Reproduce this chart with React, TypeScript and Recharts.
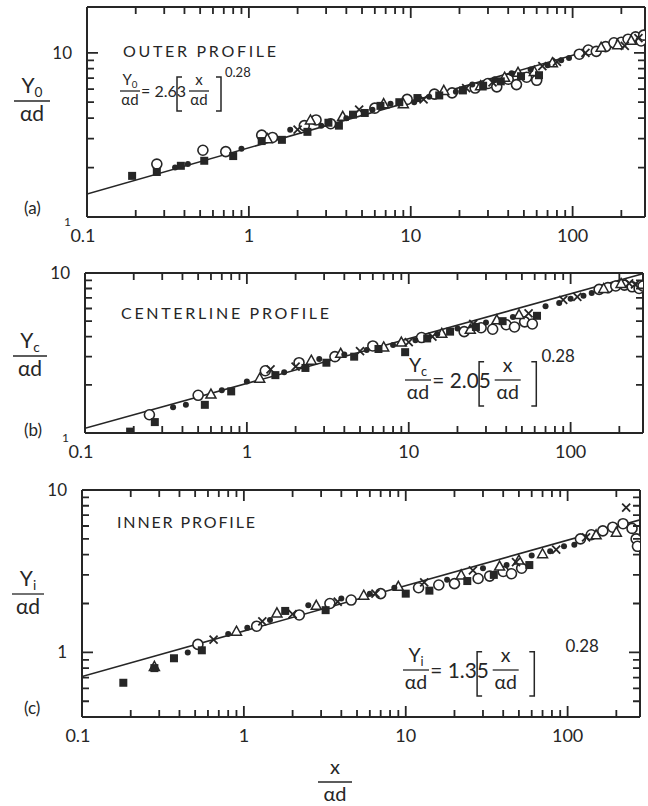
import { ScatterChart, Scatter, XAxis, YAxis } from "recharts";

const INK = "#262626";
const FONT = "Lato, 'Noto Sans', sans-serif";

// shared x axis (log)
const X_DOMAIN = [0.1, 280];
const X_TICKS = [
  0.1, 0.2, 0.3, 0.4, 0.5, 0.6, 0.7, 0.8, 0.9,
  1, 2, 3, 4, 5, 6, 7, 8, 9,
  10, 20, 30, 40, 50, 60, 70, 80, 90,
  100, 200,
];
const X_MAJOR = [0.1, 1, 10, 100];
const X_LABELS = ["0.1", "1", "10", "100"];

// (a) outer profile
const yTicksA = [1, 2, 3, 4, 5, 6, 7, 8, 9, 10];
const fitA = [[0.1, 1.38], [280, 12.9]];
const squaresA = [[0.19, 1.78], [0.27, 1.88], [0.38, 2.05], [0.53, 2.2], [0.8, 2.35], [1.2, 2.9], [1.6, 2.95], [2.3, 3.3], [3.1, 3.75], [3.6, 3.6], [4.4, 4.2], [5.2, 4.3], [6.5, 4.75], [8.5, 5.0], [11, 5.3], [15, 5.5], [21, 5.9], [28, 6.3], [36, 6.7], [48, 7.2], [62, 7.3]];
const ringsA = [[0.27, 2.1], [0.52, 2.55], [0.72, 2.5], [1.2, 3.15], [1.4, 3.05], [2.2, 3.6], [2.6, 3.9], [3.2, 3.7], [6, 4.6], [9.5, 5.2], [14, 5.6], [18, 5.7], [25, 6.1], [30, 6.5], [34, 6.2], [40, 6.9], [45, 6.4], [52, 7.1], [60, 6.8], [110, 9.8], [125, 10.4], [140, 10.2], [160, 10.9], [180, 11.5], [200, 11.6], [220, 12.1], [245, 12.5], [265, 11.8], [275, 12.8]];
const dotsA = [[0.19, 1.78], [0.35, 2.0], [0.42, 2.1], [0.9, 2.6], [1.8, 3.4], [2.8, 3.6], [4, 4.0], [5.8, 4.5], [7.5, 4.9], [10.5, 5.0], [13, 5.4], [19, 5.8], [24, 6.4], [33, 6.9], [42, 7.5], [55, 7.9], [70, 8.4], [85, 9.0], [95, 9.3]];
const trisA = [[1.3, 3.0], [2.4, 3.9], [3.8, 4.1], [6.8, 4.9], [9, 4.9], [16, 5.9], [27, 6.3], [38, 7.1], [46, 7.6], [58, 7.7], [75, 8.7], [150, 10.8], [190, 11.2], [230, 11.9]];
const crossesA = [[2.0, 3.4], [4.8, 4.5], [12, 5.2], [22, 6.1], [32, 6.6], [65, 8.3], [80, 8.8], [120, 10.0], [210, 11.0], [255, 12.3]];

// (b) centerline profile
const yTicksB = [1, 2, 3, 4, 5, 6, 7, 8, 9, 10];
const fitB = [[0.1, 1.07], [280, 9.9]];
const squaresB = [[0.19, 1.02], [0.27, 1.17], [0.55, 1.5], [0.8, 1.82], [1.5, 2.3], [2.3, 2.55], [3.1, 2.75], [4.6, 3.0], [6.5, 3.35], [9.5, 3.2], [13, 3.9], [18, 4.3], [26, 4.6], [38, 5.0], [62, 5.4]];
const ringsB = [[0.25, 1.3], [0.5, 1.72], [1.3, 2.45], [2.1, 2.75], [3.5, 3.0], [6, 3.5], [12, 3.95], [22, 4.3], [28, 4.55], [33, 4.45], [40, 4.75], [45, 4.6], [52, 4.95], [58, 4.8], [150, 7.9], [170, 8.1], [190, 8.3], [215, 8.4], [240, 8.2], [265, 8.0], [280, 8.3]];
const dotsB = [[0.35, 1.45], [0.42, 1.5], [0.7, 1.85], [1.0, 2.1], [1.7, 2.4], [2.8, 2.9], [4, 3.1], [5.5, 3.3], [8, 3.55], [11, 3.8], [15, 4.15], [20, 4.5], [30, 4.9], [44, 5.3], [70, 6.2], [85, 6.5], [100, 6.9], [120, 7.2], [135, 7.5]];
const trisB = [[0.6, 1.75], [1.2, 2.2], [2.5, 2.85], [3.8, 3.15], [7, 3.45], [9, 3.7], [16, 4.2], [24, 4.45], [35, 5.1], [48, 5.5], [160, 8.0], [205, 8.6]];
const crossesB = [[1.4, 2.5], [2.0, 2.6], [5, 3.25], [10, 3.7], [14, 4.0], [25, 4.8], [55, 5.6], [90, 6.8], [110, 7.1], [230, 8.6], [250, 8.5]];

// (c) inner profile
const yTicksC = [0.4, 0.5, 0.6, 0.7, 0.8, 0.9, 1, 2, 3, 4, 5, 6, 7, 8, 9, 10];
const fitC = [[0.1, 0.71], [280, 6.55]];
const squaresC = [[0.18, 0.65], [0.28, 0.8], [0.37, 0.92], [0.55, 1.03], [1.8, 1.8], [3.2, 1.82], [10, 2.3], [14, 2.4], [24, 2.75], [35, 3.0], [58, 3.45]];
const ringsC = [[0.52, 1.12], [1.2, 1.45], [2.2, 1.7], [3.4, 2.0], [4.6, 2.1], [7, 2.3], [12, 2.5], [16, 2.6], [20, 2.65], [28, 2.85], [33, 2.95], [40, 3.15], [45, 3.05], [52, 3.3], [120, 5.0], [140, 5.3], [165, 5.6], [190, 5.9], [220, 6.2], [250, 5.8], [265, 5.0], [270, 4.5]];
const dotsC = [[0.45, 1.0], [0.8, 1.3], [1.05, 1.42], [1.45, 1.58], [2.5, 1.95], [4, 2.15], [6, 2.3], [8.5, 2.5], [18, 2.8], [30, 3.3], [42, 3.45], [60, 3.95], [78, 4.2], [95, 4.5], [110, 4.6]];
const trisC = [[0.28, 0.82], [0.9, 1.35], [1.6, 1.75], [2.8, 1.95], [5.5, 2.25], [9, 2.55], [22, 3.0], [38, 3.4], [50, 3.7], [70, 4.05], [150, 5.3], [200, 5.5]];
const crossesC = [[0.65, 1.2], [1.3, 1.55], [2.0, 1.72], [3.8, 2.05], [6.5, 2.3], [13, 2.7], [26, 3.2], [48, 3.6], [85, 4.3], [130, 5.1], [230, 7.8]];

const toPts = (a: number[][]) => a.map(([x, y]) => ({ x, y }));

// plot-box geometry of each panel (page pixels)
const PLOT_W = 558;
const boxA = { top: 7, left: 87, h: 210, yDomain: [1, 19] };
const boxB = { top: 273, left: 85, h: 160, yDomain: [1, 10] };
const boxC = { top: 490, left: 82, h: 227, yDomain: [0.4, 10] };

// marker shapes
const Square = (p: any) => <rect x={p.cx - 4} y={p.cy - 4} width={8} height={8} fill={INK} />;
const Ring = (p: any) => <circle cx={p.cx} cy={p.cy} r={5} fill="#fff" stroke={INK} strokeWidth={1.6} />;
const Dot = (p: any) => <circle cx={p.cx} cy={p.cy} r={3} fill={INK} />;
const Tri = (p: any) => (
  <path d={`M${p.cx},${p.cy - 5}L${p.cx + 5},${p.cy + 4}L${p.cx - 5},${p.cy + 4}Z`} fill="#fff" stroke={INK} strokeWidth={1.5} />
);
const Cross = (p: any) => (
  <path d={`M${p.cx - 4},${p.cy - 4}L${p.cx + 4},${p.cy + 4}M${p.cx + 4},${p.cy - 4}L${p.cx - 4},${p.cy + 4}`} stroke={INK} strokeWidth={1.8} />
);
const Nothing = () => <g />;

// bottom labels only at decades
const XLabel = (props: any) => {
  const i = X_MAJOR.indexOf(props.payload.value);
  if (i < 0) return <g />;
  return (
    <text x={Number(props.x) - (i === 0 ? 4 : 0)} y={Number(props.y) + 25} textAnchor="middle" fontSize={18} fill={INK} fontFamily={FONT}>
      {X_LABELS[i]}
    </text>
  );
};

// left labels only at 1 and 10
const YLabel = (props: any) => {
  const v = props.payload.value;
  if (v !== 1 && v !== 10) return <g />;
  const small = v === 1 && props.smallOne;
  return (
    <text
      x={Number(props.x) - (small ? 16 : 15)}
      y={Number(props.y) + (small ? 9 : 6)}
      textAnchor="end"
      fontSize={small ? 12 : 17}
      fill={INK}
      fontFamily={FONT}
    >
      {String(v)}
    </text>
  );
};

type Box = { top: number; left: number; h: number; yDomain: number[] };

type PanelProps = {
  box: Box;
  yTicks: number[];
  smallOne: boolean;
  fit: number[][];
  squares: number[][];
  rings: number[][];
  dots: number[][];
  tris: number[][];
  crosses: number[][];
};

const axisLine = { stroke: INK, strokeWidth: 2 };
const PAD = 17; // space above the plot box inside each chart

const Panel = (p: PanelProps) => (
  <div style={{ position: "absolute", top: p.box.top - PAD, left: p.box.left - 86 }}>
    <ScatterChart width={PLOT_W + 88} height={p.box.h + PAD + 30} margin={{ top: PAD - 1, right: 1, bottom: 0, left: 0 }}>
      <XAxis
        xAxisId="b" dataKey="x" type="number" scale="log" domain={X_DOMAIN} ticks={X_TICKS}
        allowDataOverflow interval={0} height={30} tickLine={false} tickSize={0} tickMargin={0}
        axisLine={axisLine} tick={<XLabel />}
      />
      <XAxis
        xAxisId="t" orientation="top" dataKey="x" type="number" scale="log" domain={X_DOMAIN}
        allowDataOverflow height={1} tickLine={false} tick={false} axisLine={axisLine}
      />
      <YAxis
        yAxisId="l" dataKey="y" type="number" scale="log" domain={p.box.yDomain} ticks={p.yTicks}
        allowDataOverflow interval={0} width={86} tickLine={false} tickSize={0} tickMargin={0}
        axisLine={axisLine} tick={<YLabel smallOne={p.smallOne} />}
      />
      <YAxis
        yAxisId="r" orientation="right" dataKey="y" type="number" scale="log" domain={p.box.yDomain}
        allowDataOverflow width={1} tickLine={false} tick={false} axisLine={axisLine}
      />
      <Scatter xAxisId="t" yAxisId="r" data={toPts(p.fit)} shape={Nothing} isAnimationActive={false} />
      <Scatter xAxisId="b" yAxisId="l" data={toPts(p.fit)} line={{ stroke: INK, strokeWidth: 1.6 }} shape={Nothing} isAnimationActive={false} />
      <Scatter xAxisId="b" yAxisId="l" data={toPts(p.rings)} shape={(s: any) => <Ring {...s} />} isAnimationActive={false} />
      <Scatter xAxisId="b" yAxisId="l" data={toPts(p.tris)} shape={(s: any) => <Tri {...s} />} isAnimationActive={false} />
      <Scatter xAxisId="b" yAxisId="l" data={toPts(p.squares)} shape={(s: any) => <Square {...s} />} isAnimationActive={false} />
      <Scatter xAxisId="b" yAxisId="l" data={toPts(p.dots)} shape={(s: any) => <Dot {...s} />} isAnimationActive={false} />
      <Scatter xAxisId="b" yAxisId="l" data={toPts(p.crosses)} shape={(s: any) => <Cross {...s} />} isAnimationActive={false} />
    </ScatterChart>
  </div>
);

// inward frame ticks on all four sides, same log mapping as the chart axes
const FrameTicks = ({ box, yTicks }: { box: Box; yTicks: number[] }) => {
  const lx0 = Math.log10(X_DOMAIN[0]);
  const lxSpan = Math.log10(X_DOMAIN[1]) - lx0;
  const ly0 = Math.log10(box.yDomain[0]);
  const lySpan = Math.log10(box.yDomain[1]) - ly0;
  const px = (v: number) => box.left + ((Math.log10(v) - lx0) / lxSpan) * PLOT_W;
  const py = (v: number) => box.top + box.h - ((Math.log10(v) - ly0) / lySpan) * box.h;
  const bottom = box.top + box.h;
  const right = box.left + PLOT_W;
  let d = "";
  X_TICKS.filter((t) => t > X_DOMAIN[0]).forEach((t) => {
    const len = X_MAJOR.includes(t) ? 11 : 7;
    const x = px(t);
    d += `M${x},${bottom}V${bottom - len}M${x},${box.top}V${box.top + len}`;
  });
  yTicks.filter((t) => t > box.yDomain[0]).forEach((t) => {
    const len = t === 1 || t === 10 ? 11 : 7;
    const y = py(t);
    d += `M${box.left},${y}H${box.left + len}M${right},${y}H${right - len}`;
  });
  return <path d={d} stroke={INK} strokeWidth={1.8} fill="none" />;
};

// stacked fraction: num over den, rule at y
const Frac = ({ x, y, num, sub, den, size, w }: any) => (
  <g>
    <text x={x} y={y - size * 0.4} fontSize={size} textAnchor="middle">
      {num}
      {sub && <tspan fontSize={size * 0.65} dy={size * 0.2}>{sub}</tspan>}
    </text>
    <line x1={x - w / 2} x2={x + w / 2} y1={y} y2={y} stroke={INK} strokeWidth={1.3} />
    <text x={x} y={y + size * 0.95} fontSize={size} textAnchor="middle">{den}</text>
  </g>
);

const Brackets = ({ x1, x2, y1, y2 }: any) => (
  <path
    d={`M${x1 + 5},${y1}H${x1}V${y2}H${x1 + 5}M${x2 - 5},${y1}H${x2}V${y2}H${x2 - 5}`}
    fill="none" stroke={INK} strokeWidth={1.5}
  />
);

// Y/αd = coef [x/αd]^0.28 laid out around the left fraction (x0, y0), scaled by k
const Formula = ({ x0, y0, sub, coef, k, gap }: any) => (
  <g>
    <Frac x={x0} y={y0} num="Y" sub={sub} den="αd" size={15 * k} w={20 * k} />
    <text x={x0 + 11 * k} y={y0 + 6 * k} fontSize={16 * k}>= {coef}</text>
    <Brackets x1={x0 + 47 * k} x2={x0 + 91 * k} y1={y0 - 14 * k} y2={y0 + 20 * k} />
    <Frac x={x0 + 69 * k} y={y0} num="x" den="αd" size={15 * k} w={20 * k} />
    <text x={x0 + 95 * k + gap} y={y0 - 14 * k} fontSize={13 * k}>0.28</text>
  </g>
);

const Overlay = () => (
  <svg width={648} height={806} style={{ position: "absolute", top: 0, left: 0, pointerEvents: "none" }}>
    <FrameTicks box={boxA} yTicks={yTicksA} />
    <FrameTicks box={boxB} yTicks={yTicksB} />
    <FrameTicks box={boxC} yTicks={yTicksC} />
    <g fill={INK} fontFamily={FONT}>
      {/* panel (a) */}
      <text x={123} y={57} fontSize={16} textLength={153} lengthAdjust="spacing">OUTER PROFILE</text>
      <Formula x0={130} y0={91} sub="0" coef="2.63" k={1} gap={0} />
      <Frac x={32} y={101} num="Y" sub="0" den="αd" size={21} w={36} />
      <text x={24} y={214} fontSize={17}>(a)</text>

      {/* panel (b) */}
      <text x={121} y={319} fontSize={16} textLength={208} lengthAdjust="spacing">CENTERLINE PROFILE</text>
      <Formula x0={418} y0={380} sub="c" coef="2.05" k={1.3} gap={0} />
      <Frac x={30} y={356} num="Y" sub="c" den="αd" size={21} w={34} />
      <text x={24} y={436} fontSize={17}>(b)</text>

      {/* panel (c) */}
      <text x={117} y={528} fontSize={16} textLength={138} lengthAdjust="spacing">INNER PROFILE</text>
      <Formula x0={416} y0={670} sub="i" coef="1.35" k={1.3} gap={26} />
      <Frac x={28} y={594} num="Y" sub="i" den="αd" size={21} w={32} />
      <text x={24} y={714} fontSize={17}>(c)</text>

      {/* shared x title */}
      <Frac x={335} y={782} num="x" den="αd" size={20} w={34} />
    </g>
  </svg>
);

export default function App() {
  return (
    <div style={{ position: "absolute", top: 0, left: 0, width: 648, height: 806, background: "#fff", overflow: "hidden" }}>
      <Panel box={boxA} yTicks={yTicksA} smallOne
        fit={fitA} squares={squaresA} rings={ringsA} dots={dotsA} tris={trisA} crosses={crossesA} />
      <Panel box={boxB} yTicks={yTicksB} smallOne
        fit={fitB} squares={squaresB} rings={ringsB} dots={dotsB} tris={trisB} crosses={crossesB} />
      <Panel box={boxC} yTicks={yTicksC} smallOne={false}
        fit={fitC} squares={squaresC} rings={ringsC} dots={dotsC} tris={trisC} crosses={crossesC} />
      <Overlay />
    </div>
  );
}
